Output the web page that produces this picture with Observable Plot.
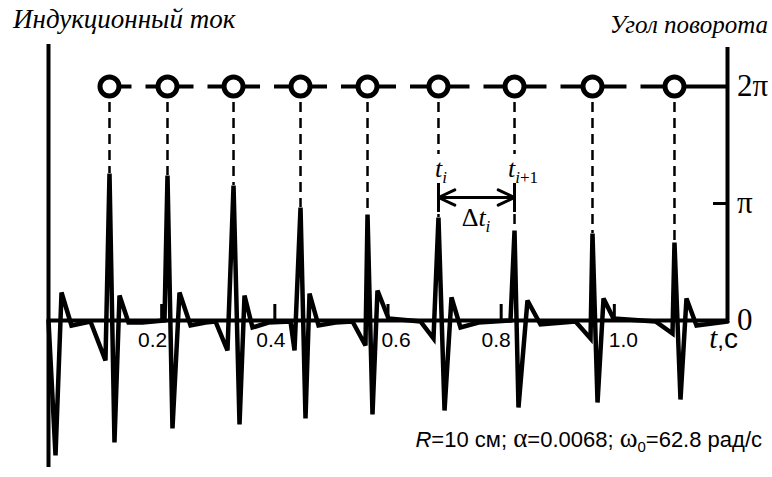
<!DOCTYPE html>
<html><head><meta charset="utf-8">
<script src="https://cdn.jsdelivr.net/npm/d3@7"></script>
<script src="https://cdn.jsdelivr.net/npm/@observablehq/plot@0.6"></script>
<style>html,body{margin:0;padding:0;background:#fff}
#fig{position:relative;width:772px;height:477px}
.lbl{position:absolute;left:0;top:0;white-space:nowrap;line-height:1;color:#000}
.it{font-style:italic}
</style>
</head><body>
<div id="fig"></div>
<script>
// ---- data ----
const timeS = [0, 0.0124, 0.0230, 0.0406, 0.0742,
  0.1007, 0.1078, 0.1166, 0.1255, 0.1414, 0.1661,
  0.2050, 0.2103, 0.2191, 0.2315, 0.2510, 0.2775,
  0.2951, 0.3163, 0.3270, 0.3376, 0.3464, 0.3605, 0.3888,
  0.4277, 0.4348, 0.4454, 0.4542, 0.4613, 0.4772, 0.5072,
  0.5373, 0.5602, 0.5638, 0.5726, 0.5814, 0.6009,
  0.6574, 0.6804, 0.6892, 0.6999, 0.7122, 0.7281, 0.7599,
  0.8165, 0.8236, 0.8306, 0.8465, 0.8695,
  0.9314, 0.9579, 0.9614, 0.9703, 0.9809, 0.9986,
  1.0728, 1.1028, 1.1063, 1.1169, 1.1275, 1.1452, 1.2000];
const currentI = [0, -135, 28, -5, -1,
  -40, 147, -122, 25, -2, -2,
  0, 145, -108, 28, -5, -2,
  -1, -30, 135, -104, 25, -7, -2,
  -1, -30, 113, -98, 27, -5, -2,
  -1, -25, 106, -94, 30, 2,
  -1, -18, 103, -90, 23, -7, -2,
  0, 90, -87, 20, -4,
  -1, -18, 87, -82, 22, 2,
  -1, -13, 78, -79, 22, -5, -1];
const xTicks = [0.2, 0.4, 0.6, 0.8, 1.0];
const xTickLabels = ["0.2", "0.4", "0.6", "0.8", "1.0"];
const angleTicks = [0, Math.PI, 2 * Math.PI];
const angleTickLabels = ["0", "π", "2π"];
const titleLeft = "Индукционный ток";
const titleRight = "Угол поворота";
const labelledSpikes = [5, 6]; // t_i and t_{i+1}

// ---- layout / helpers ----
const T_MAX = 1.2;
const I_PER_RAD = 117 / Math.PI;           // maps angle axis onto the same y scale
const labelShift = [-9, -4, 8, -5, 9];     // px shift of tick labels
const PX = T_MAX / 679;                    // data units per pixel along x
const SERIF = "'Liberation Serif'";
const SANS = "'Liberation Sans'";

const current = timeS.map((t, i) => ({t, I: currentI[i]}));
const peaks = current.filter(d => d.I > 60);
const level = 2 * Math.PI * I_PER_RAD;
const gap = 7 * PX;
const segs = peaks.map((p, i) => ({
  x1: i === 0 ? p.t : (peaks[i - 1].t + p.t) / 2 + gap,
  x2: i === peaks.length - 1 ? T_MAX : (p.t + peaks[i + 1].t) / 2 - gap
}));
const ti = peaks[labelledSpikes[0]].t, ti1 = peaks[labelledSpikes[1]].t;

const marks = [
  Plot.ruleY([0], {x1: 0, x2: T_MAX, strokeWidth: 4}),
  Plot.ruleX([0], {y1: -147, y2: 276, strokeWidth: 4}),
  Plot.ruleX([T_MAX], {y1: 0, y2: 273, strokeWidth: 4}),
  Plot.ruleY([angleTicks[1] * I_PER_RAD], {x1: T_MAX - 14 * PX, x2: T_MAX, strokeWidth: 3}),
  Plot.ruleX(xTicks, {y1: 0, y2: 16, strokeWidth: 3}),
  Plot.ruleX(peaks, {x: "t", y1: level, y2: "I", strokeWidth: 2.5, strokeDasharray: "10,6"}),
  Plot.line(current, {x: "t", y: "I", strokeWidth: 4.5, strokeLinejoin: "miter", strokeMiterlimit: 3}),
  Plot.link(segs, {x1: "x1", x2: "x2", y1: level, y2: level, strokeWidth: 4}),
  Plot.dot(peaks, {x: "t", y: level, r: 9.5, fill: "white", stroke: "black", strokeWidth: 5}),
  Plot.ruleX([ti, ti1], {y1: 108, y2: 140, strokeWidth: 3}),
  Plot.arrow([{a: ti, b: ti1}, {a: ti1, b: ti}], {x1: "a", x2: "b", y1: 123, y2: 123,
    strokeWidth: 3, headLength: 9, headAngle: 50}),
  ...xTicks.map((v, i) => Plot.text([v], {x: d => d, y: 0, dy: 12, dx: labelShift[i],
    text: () => xTickLabels[i], lineAnchor: "top", fontFamily: "Liberation Sans", fontSize: 21}))
];

const svg = Plot.plot({
  width: 772, height: 477,
  marginLeft: 48, marginRight: 45, marginTop: 40, marginBottom: 7,
  x: {domain: [0, T_MAX], axis: null},
  y: {domain: [-150, 280], axis: null},
  marks
});
svg.style.overflow = "visible";
svg.style.background = "white";
const fig = document.getElementById("fig");
fig.appendChild(svg);

// scales from the plot (pixel positions for HTML labels)
let sx, sy;
try { const a = svg.scale("x"), b = svg.scale("y"); sx = v => a.apply(v); sy = v => b.apply(v); }
catch (e) { const a = d3.scaleLinear([0, T_MAX], [48, 727]), b = d3.scaleLinear([-150, 280], [470, 40]); sx = a; sy = b; }

// HTML label placed by its baseline; font families forced inline
function label(html, x, baseline, anchor) {
  const d = document.createElement("div");
  d.className = "lbl";
  d.innerHTML = html + '<span style="display:inline-block;width:0;height:0;vertical-align:baseline"></span>';
  d.querySelectorAll("[data-f]").forEach(el =>
    el.style.setProperty("font-family", el.dataset.f === "serif" ? SERIF : SANS, "important"));
  fig.appendChild(d);
  const r = d.getBoundingClientRect(), m = d.lastChild.getBoundingClientRect();
  const off = m.bottom - r.top, w = r.width;
  d.style.left = (x - (anchor === "end" ? w : anchor === "middle" ? w / 2 : 0)) + "px";
  d.style.top = (baseline - off) + "px";
}

// titles
label(`<span data-f="serif" class="it" style="font-size:27px">${titleLeft}</span>`, sx(0) - 35, 28, "start");
label(`<span data-f="serif" class="it" style="font-size:25px">${titleRight}</span>`, sx(T_MAX) + 41, 33, "end");
// right axis (angle) labels
angleTicks.forEach((a, i) => label(`<span data-f="serif" style="font-size:31px">${angleTickLabels[i]}</span>`,
  sx(T_MAX) + 10, sy(a * I_PER_RAD) + 10, "start"));
// t, c
label(`<span data-f="serif" class="it" style="font-size:29px">t</span><span data-f="sans" style="font-size:24px">,</span><span data-f="sans" style="font-size:28px">с</span>`,
  sx(T_MAX) + 11, sy(-28), "end");
// Δt annotation
const sub = s => `<span style="font-size:17px;position:relative;top:6px">${s}</span>`;
label(`<span data-f="serif" style="font-size:26px;background:#fff"><span class="it">t</span>${sub('<span class="it">i</span>')}</span>`,
  sx(ti) - 3, sy(143), "start");
label(`<span data-f="serif" style="font-size:26px;background:#fff"><span class="it">t</span>${sub('<span class="it">i</span>+1')}</span>`,
  sx(ti1) - 6, sy(143), "start");
label(`<span data-f="serif" style="font-size:26px">Δ<span class="it">t</span>${sub('<span class="it">i</span>')}</span>`,
  sx((ti + ti1) / 2), sy(94), "middle");
// parameters
label(`<span data-f="sans" style="font-size:22px"><span class="it">R</span>=10 см; <span data-f="serif" style="font-size:27px">α</span>=0.0068; <span data-f="serif" style="font-size:27px">ω</span><span style="font-size:15px;position:relative;top:5px">0</span>=62.8 рад/с</span>`,
  sx(T_MAX) + 35, sy(-127), "end");
</script></body></html>
